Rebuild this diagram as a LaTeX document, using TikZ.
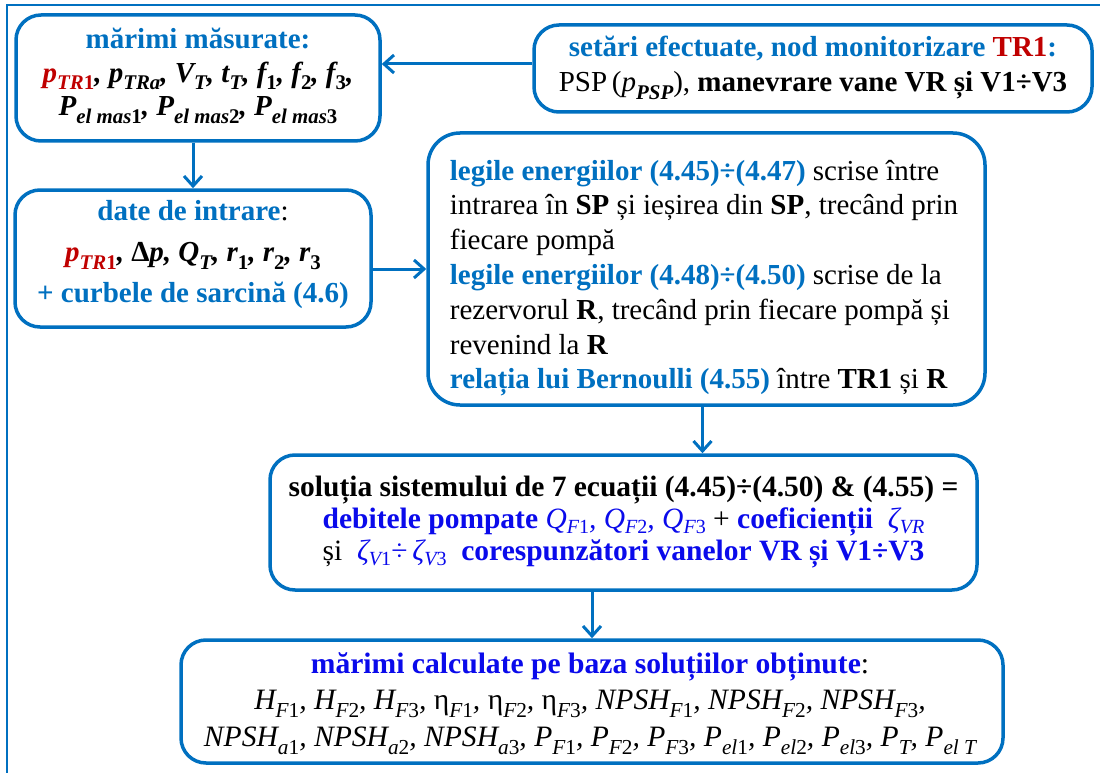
\documentclass[tikz,border=0pt]{standalone}
\usepackage{fontspec}
\setmainfont{Liberation Serif}
\usetikzlibrary{arrows.meta}
\definecolor{bl}{RGB}{0,112,192}
\definecolor{rd}{RGB}{192,0,0}
\definecolor{bb}{RGB}{10,10,235}
\newcommand{\sbx}[1]{\raisebox{-0.26em}{\scalebox{0.72}{#1}}}
\newcommand{\sbz}[1]{\raisebox{-0.16em}{\scalebox{0.68}{#1}}}
\tikzset{
  box/.style={draw=bl, line width=3.5pt, rounded corners=25pt, inner sep=0pt},
  conn/.style={draw=bl, line width=3pt, -{Straight Barb[length=10pt,width=18pt]}},
  txt/.style={inner sep=0pt, align=center}
}
\begin{document}
\begin{tikzpicture}[x=1pt,y=-1pt]
\useasboundingbox (0,0) rectangle (1100,773);
\draw[bl, line width=2pt] (7,773) -- (7,5) -- (1100,5);

% boxes
\node[box, minimum width=364pt, minimum height=126pt] (b1) at (198,78) {};
\node[box, minimum width=558pt, minimum height=87pt] (b2) at (813,68.5) {};
\node[box, minimum width=356pt, minimum height=137pt] (b3) at (193,258.5) {};
\node[box, minimum width=557pt, minimum height=272pt, rounded corners=32pt] (b4) at (706.5,269) {};
\node[box, minimum width=707pt, minimum height=135pt] (b5) at (623.5,522.5) {};
\node[box, minimum width=822pt, minimum height=123pt] (b6) at (592,701.5) {};

% texts
\node[txt, font=\fontsize{29}{33.5}\selectfont] (t1) at (198,76)
 {\textcolor{bl}{\textbf{mărimi măsurate:}}\\
  \textbf{\textit{\textcolor{rd}{p\sbx{TR\upshape 1}}, p\sbx{TRa}, V\sbx{T}, t\sbx{T}, f\sbx{\upshape 1}, f\sbx{\upshape 2}, f\sbx{\upshape 3},}}\\
  \textbf{\textit{P\sbx{el mas\upshape 1}, P\sbx{el mas\upshape 2}, P\sbx{el mas\upshape 3}}}};

\node[txt, font=\fontsize{29}{35}\selectfont] (t2) at (813,68)
 {\textcolor{bl}{\textbf{setări efectuate, nod monitorizare \textcolor{rd}{TR1}:}}\\
  PSP\,(\textit{p}\sbx{\bfseries\itshape PSP}), \textbf{manevrare vane VR și V1÷V3}};

\node[txt, font=\fontsize{29}{41}\selectfont] (t3) at (193,254.5)
 {\textcolor{bl}{\textbf{date de intrare}}:\\
  \textbf{\textit{\textcolor{rd}{p\sbx{TR\upshape 1}}, {\upshape Δ}p, Q\sbx{T}, r\sbx{\upshape 1}, r\sbx{\upshape 2}, r\sbx{\upshape 3}}}\\
  \textcolor{bl}{\textbf{+ curbele de sarcină (4.6)}}};

\node[txt, font=\fontsize{29}{34.8}\selectfont] (t4) at (704,277.5)
 {\begin{tabular}{@{}l@{}}
  \textcolor{bl}{\textbf{legile energiilor (4.45)÷(4.47)}} scrise între\\
  intrarea în \textbf{SP} și ieșirea din \textbf{SP}, trecând prin\\
  fiecare pompă\\
  \textcolor{bl}{\textbf{legile energiilor (4.48)÷(4.50)}} scrise de la\\
  rezervorul \textbf{R}, trecând prin fiecare pompă și\\
  revenind la \textbf{R}\\
  \textcolor{bl}{\textbf{relația lui Bernoulli (4.55)}} între \textbf{TR1} și \textbf{R}
  \end{tabular}};

\node[txt, font=\fontsize{29.5}{32}\selectfont] (t5) at (623.5,522.5)
 {\textbf{soluția sistemului de 7 ecuații (4.45)÷(4.50) \& (4.55) =}\\
  \textcolor{bb}{\textbf{debitele pompate} \textit{Q\sbz{F\upshape 1}, Q\sbz{F\upshape 2}, Q\sbz{F\upshape 3}}} + \textcolor{bb}{\textbf{coeficienții}\ \ \textit{ζ\sbz{VR}}}\\
  și\ \ \textcolor{bb}{\textit{ζ\sbz{V\upshape 1}}÷\,\textit{ζ\sbz{V\upshape 3}}\ \ \textbf{corespunzători vanelor VR și V1÷V3}}};

\node[txt, font=\fontsize{29.6}{36.5}\selectfont] (t6) at (590,703.5)
 {\textcolor{bb}{\textbf{mărimi calculate pe baza soluțiilor obținute}}:\\
  \textit{H\sbx{F\upshape 1}, H\sbx{F\upshape 2}, H\sbx{F\upshape 3}, {\upshape η}\sbx{F\upshape 1}, {\upshape η}\sbx{F\upshape 2}, {\upshape η}\sbx{F\upshape 3}, NPSH\sbx{F\upshape 1}, NPSH\sbx{F\upshape 2}, NPSH\sbx{F\upshape 3},}\\
  \textit{NPSH\sbx{a\upshape 1}, NPSH\sbx{a\upshape 2}, NPSH\sbx{a\upshape 3}, P\sbx{F\upshape 1}, P\sbx{F\upshape 2}, P\sbx{F\upshape 3}, P\sbx{el\upshape 1}, P\sbx{el\upshape 2}, P\sbx{el\upshape 3}, P\sbx{T}, P\sbx{el T}}};

% connectors
\draw[conn] ([yshift=4.5pt]b2.west) -- ([yshift=4.5pt]b2.west -| b1.east);
\draw[conn] (b3.north |- b1.south) -- (b3.north);
\draw[conn] (b3.east |- b4.west) -- (b4.west);
\draw[conn] ([xshift=-4pt]b4.south) -- ([xshift=-4pt]b4.south |- b5.north);
\draw[conn] (b6.north |- b5.south) -- (b6.north);
\end{tikzpicture}
\end{document}
